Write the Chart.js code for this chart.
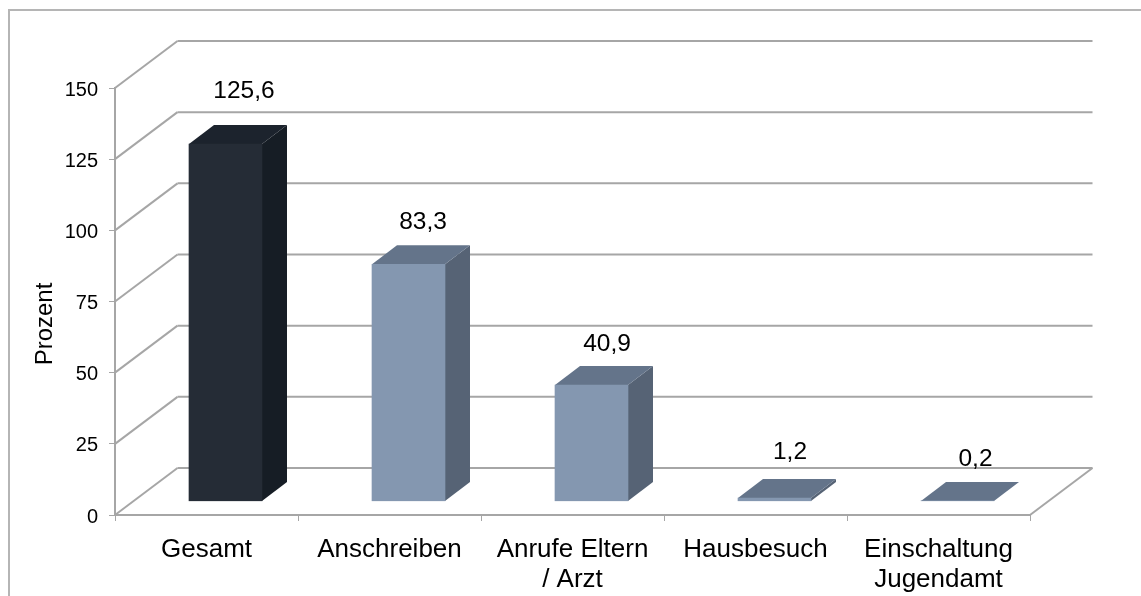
<!DOCTYPE html>
<html><head><meta charset="utf-8">
<style>html,body{margin:0;padding:0;background:#fff}canvas{display:block}</style>
<script src="https://cdn.jsdelivr.net/npm/chart.js@4"></script>
</head><body><canvas id="c" width="1141" height="596"></canvas>
<script>
const categories = [["Gesamt"], ["Anschreiben"], ["Anrufe Eltern", "/ Arzt"], ["Hausbesuch"], ["Einschaltung", "Jugendamt"]];
const values = [125.6, 83.3, 40.9, 1.2, 0.2];
const valueLabels = ["125,6", "83,3", "40,9", "1,2", "0,2"];
const frontColors = ["#252c36", "#8497b0", "#8497b0", "#8497b0", "#8497b0"];
const sideColors = ["#161d25", "#566375", "#566375", "#566375", "#566375"];
const topColors = ["#1c232d", "#64748a", "#64748a", "#64748a", "#64748a"];
const labelShift = [[18.5, -53], [14.5, -42], [15.5, -41], [15.5, -46], [18, -42]];
const axisTitle = "Prozent";

const FONT = '"Liberation Sans", Arial, sans-serif';
const GRID = "#a6a6a6";
const WALL = {dx: 62.5, dy: -47};
const BAR_SHIFT = {dx: 19, dy: -13.5};
const BAR_DEPTH = {dx: 25, dy: -19};

const scene = {
  id: "scene",
  beforeDraw(chart) {
    const c = chart.ctx;
    c.save();
    c.strokeStyle = "#b5b5b5"; c.lineWidth = 2;
    c.beginPath(); c.moveTo(9, 596); c.lineTo(9, 10); c.lineTo(1141, 10); c.stroke();
    c.restore();
  },
  beforeDatasetsDraw(chart) {
    const c = chart.ctx, y = chart.scales.y, a = chart.chartArea;
    c.save();
    c.strokeStyle = GRID;
    y.ticks.forEach((t) => {
      const py = y.getPixelForValue(t.value);
      c.lineWidth = 2;
      c.beginPath();
      c.moveTo(a.left + WALL.dx, py + WALL.dy);
      c.lineTo(a.right + WALL.dx, py + WALL.dy);
      c.stroke();
      c.beginPath();
      c.moveTo(a.left, py);
      c.lineTo(a.left + WALL.dx, py + WALL.dy);
      c.stroke();
    });
    const py0 = y.getPixelForValue(0);
    c.beginPath();
    c.moveTo(a.right, py0);
    c.lineTo(a.right + WALL.dx, py0 + WALL.dy);
    c.stroke();
    c.fillStyle = "#000";
    c.font = "24px " + FONT;
    c.textAlign = "center"; c.textBaseline = "middle";
    c.translate(45, 324); c.rotate(-Math.PI / 2);
    c.fillText(axisTitle, 0, 0);
    c.restore();
  },
  beforeDatasetDraw(chart, args) {
    const c = chart.ctx;
    c.save();
    c.translate(BAR_SHIFT.dx, BAR_SHIFT.dy);
    args.meta.data.forEach((el, i) => {
      const p = el.getProps(["x", "y", "base", "width"], true);
      const l = p.x - p.width / 2, r = p.x + p.width / 2;
      c.fillStyle = sideColors[i];
      c.beginPath();
      c.moveTo(r, p.y); c.lineTo(r + BAR_DEPTH.dx, p.y + BAR_DEPTH.dy);
      c.lineTo(r + BAR_DEPTH.dx, p.base + BAR_DEPTH.dy); c.lineTo(r, p.base);
      c.closePath(); c.fill();
      c.fillStyle = topColors[i];
      c.beginPath();
      c.moveTo(l, p.y); c.lineTo(l + BAR_DEPTH.dx, p.y + BAR_DEPTH.dy);
      c.lineTo(r + BAR_DEPTH.dx, p.y + BAR_DEPTH.dy); c.lineTo(r, p.y);
      c.closePath(); c.fill();
    });
  },
  afterDatasetDraw(chart, args) {
    const c = chart.ctx;
    c.restore();
    c.save();
    c.fillStyle = "#000";
    c.font = "24.5px " + FONT;
    c.textAlign = "center"; c.textBaseline = "middle";
    args.meta.data.forEach((el, i) => {
      const p = el.getProps(["x", "y"], true);
      c.fillText(valueLabels[i], p.x + BAR_SHIFT.dx + labelShift[i][0], p.y + BAR_SHIFT.dy + labelShift[i][1]);
    });
    c.restore();
  }
};

new Chart(document.getElementById("c"), {
  type: "bar",
  data: {
    labels: categories,
    datasets: [{
      data: values,
      backgroundColor: frontColors,
      borderWidth: 0,
      barThickness: 73
    }]
  },
  plugins: [scene],
  options: {
    responsive: false,
    animation: false,
    layout: {padding: {top: 88, right: 111, left: 0, bottom: 0}},
    plugins: {legend: {display: false}, tooltip: {enabled: false}},
    scales: {
      x: {
        afterFit(s) { s.height = 81; },
        grid: {drawOnChartArea: false, drawTicks: true, tickLength: 6, color: GRID, lineWidth: 1},
        border: {display: true, color: GRID, width: 2},
        ticks: {autoSkip: false, maxRotation: 0, minRotation: 0, color: "#000", padding: 14,
                font: {family: FONT, size: 26, lineHeight: 1.16}}
      },
      y: {
        min: 0, max: 150,
        afterFit(s) { s.width = 115; },
        grid: {drawOnChartArea: false, drawTicks: true, tickLength: 6, color: GRID, lineWidth: 1},
        border: {display: true, color: GRID, width: 2},
        ticks: {stepSize: 25, color: "#000", padding: 11, labelOffset: 2, font: {family: FONT, size: 20}}
      }
    }
  }
});
</script></body></html>
